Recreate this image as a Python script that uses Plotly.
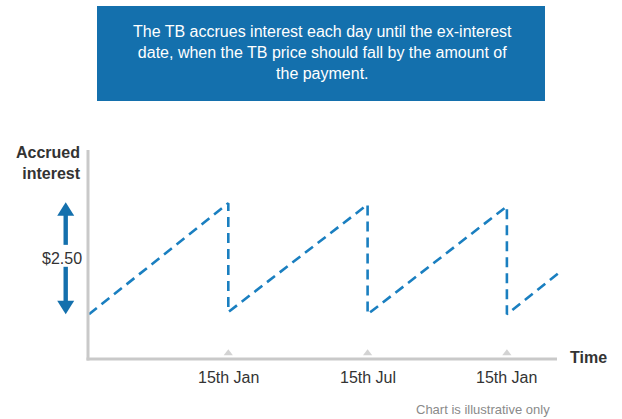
import plotly.graph_objects as go

# Data (time in half-year coupon periods, accrued interest in $)
time = [0, 1, 1, 2, 2, 3, 3, 3.38]
accrued = [0, 2.48, 0.05, 2.45, 0.0, 2.41, 0.0, 0.94]
tick_times = [1, 2, 3]
tick_labels = ["15th Jan", "15th Jul", "15th Jan"]
tick_values = [0, 2.5]
payment_label = "$2.50"

W, H = 622, 419
L, R, T, B = 88, 60, 150, 60
PW, PH = W - L - R, H - T - B

def px(x):
    return (x - L) / PW

def py(y):
    return (H - B - y) / PH

BLUE = "#1470ad"
LINE = "#1a7fc0"
GRAY = "#c9c9c9"
FONT = "Liberation Sans, Arial, sans-serif"

fig = go.Figure()
fig.add_trace(go.Scatter(x=time, y=accrued, mode="lines",
                         line=dict(color=LINE, width=2.6, dash="10px,6px"),
                         hoverinfo="skip", showlegend=False))
# tick triangles
fig.add_trace(go.Scatter(x=tick_times, y=[-0.87] * len(tick_times), mode="markers",
                         marker=dict(symbol="triangle-up", size=8, color="#d3d3d3"),
                         cliponaxis=False, hoverinfo="skip", showlegend=False))
fig.add_trace(go.Scatter(x=[-0.045] * len(tick_values), y=tick_values, mode="markers",
                         marker=dict(symbol="triangle-left", size=8, color="#d3d3d3"),
                         cliponaxis=False, hoverinfo="skip", showlegend=False))

shapes = []
# axes lines
shapes.append(dict(type="line", xref="paper", yref="paper", x0=px(88), x1=px(88), y0=py(150), y1=py(360.5),
                   line=dict(color=GRAY, width=3)))
shapes.append(dict(type="line", xref="paper", yref="paper", x0=px(86.5), x1=px(557), y0=py(359), y1=py(359),
                   line=dict(color=GRAY, width=3)))
# title box
shapes.append(dict(type="rect", xref="paper", yref="paper", x0=px(97), x1=px(545), y0=py(6), y1=py(101),
                   fillcolor=BLUE, line=dict(width=0), layer="below"))
# double arrow ($2.50)
ax = 65.7
hw, sw, hh = 8.5, 2.2, 0.30
top, bot = tick_values[1], tick_values[0]
shapes.append(dict(type="path", xref="paper", yref="y",
                   path=f"M {px(ax)},{top} L {px(ax+hw)},{top-hh} L {px(ax-hw)},{top-hh} Z",
                   fillcolor=BLUE, line=dict(width=0)))
shapes.append(dict(type="rect", xref="paper", yref="y", x0=px(ax-sw), x1=px(ax+sw), y0=1.55, y1=top-hh+0.02,
                   fillcolor=BLUE, line=dict(width=0)))
shapes.append(dict(type="path", xref="paper", yref="y",
                   path=f"M {px(ax)},{bot} L {px(ax+hw)},{bot+hh} L {px(ax-hw)},{bot+hh} Z",
                   fillcolor=BLUE, line=dict(width=0)))
shapes.append(dict(type="rect", xref="paper", yref="y", x0=px(ax-sw), x1=px(ax+sw), y0=bot+hh-0.02, y1=1.06,
                   fillcolor=BLUE, line=dict(width=0)))

annotations = []
annotations.append(dict(xref="paper", yref="paper", x=px(322), y=py(52), showarrow=False,
                        text="The TB accrues interest each day until the ex-interest<br>date, when the TB price should fall by the amount of<br>the payment.",
                        font=dict(family=FONT, size=16, color="white"), align="center",
                        xanchor="center", yanchor="middle"))
for t, lab in zip(tick_times, tick_labels):
    annotations.append(dict(xref="x", yref="paper", x=t, y=py(377), text=lab, showarrow=False,
                            font=dict(family=FONT, size=16, color="#333333"),
                            xanchor="center", yanchor="middle"))
annotations.append(dict(xref="paper", yref="paper", x=px(568), y=py(357), text="<b>Time</b>", showarrow=False,
                        font=dict(family=FONT, size=16, color="#333333"), xanchor="left", yanchor="middle"))
annotations.append(dict(xref="paper", yref="paper", x=px(83), y=py(162.5), text="<b>Accrued<br>interest</b>",
                        showarrow=False, align="right",
                        font=dict(family=FONT, size=16, color="#333333"), xanchor="right", yanchor="middle"))
annotations.append(dict(xref="paper", yref="y", x=px(62), y=(top + bot) / 2, text=payment_label, showarrow=False,
                        font=dict(family=FONT, size=16, color="#333333"), xanchor="center", yanchor="middle"))
annotations.append(dict(xref="paper", yref="paper", x=px(552), y=py(409), text="Chart is illustrative only",
                        showarrow=False, font=dict(family=FONT, size=13, color="#8a8a8a"),
                        xanchor="right", yanchor="middle"))

fig.update_layout(
    width=W, height=H,
    margin=dict(l=L, r=R, t=T, b=B),
    paper_bgcolor="white", plot_bgcolor="white",
    xaxis=dict(range=[-0.0072, 3.3956], showgrid=False, zeroline=False, showline=False,
               showticklabels=False, ticks="", fixedrange=True),
    yaxis=dict(range=[-0.998, 3.667], showgrid=False, zeroline=False, showline=False,
               showticklabels=False, ticks="", fixedrange=True),
    shapes=shapes, annotations=annotations, showlegend=False,
)

fig.write_html("out.html", config={"displayModeBar": False},
               post_script="document.body.style.margin='0';document.body.style.overflow='hidden';")
